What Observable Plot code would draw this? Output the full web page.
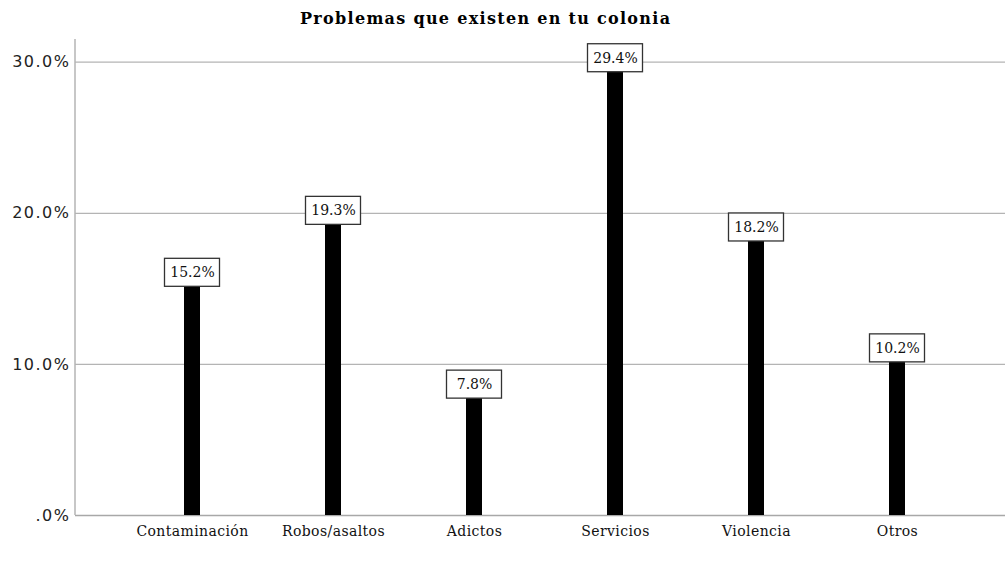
<!DOCTYPE html>
<html>
<head>
<meta charset="utf-8">
<script src="https://cdn.jsdelivr.net/npm/d3@7"></script>
<script src="https://cdn.jsdelivr.net/npm/@observablehq/plot@0.6"></script>
<style>
  html, body { margin: 0; padding: 0; background: #fff; }
  #wrap { width: 1005px; height: 568px; position: relative; }
  #title { height: 38px; position: relative; }
  #title span { position: absolute; left: 300px; top: 9px; font-family: "DejaVu Serif", serif; font-weight: bold; font-size: 16px; letter-spacing: 1.3px; color: #000; white-space: nowrap; }
  .xaxis text { letter-spacing: 0.4px; }
  .yaxis text { letter-spacing: 1.5px; }
</style>
</head>
<body>
<div id="wrap">
  <div id="title"><span>Problemas que existen en tu colonia</span></div>
  <div id="chart"></div>
</div>
<script>
const categories = ["Contaminación", "Robos/asaltos", "Adictos", "Servicios", "Violencia", "Otros"];
const values = [15.2, 19.3, 7.8, 29.4, 18.2, 10.2];
const yTicks = [0, 10, 20, 30];

const data = categories.map((c, i) => ({cat: c, value: values[i]}));
const fmtTick = d => d === 0 ? ".0%" : d.toFixed(1) + "%";

const leftLine = (index, scales, values, dims) => {
  const ns = "http://www.w3.org/2000/svg";
  const l = document.createElementNS(ns, "line");
  l.setAttribute("x1", dims.marginLeft);
  l.setAttribute("x2", dims.marginLeft);
  l.setAttribute("y1", dims.marginTop);
  l.setAttribute("y2", dims.height - dims.marginBottom);
  l.setAttribute("stroke", "#b4b4b4");
  l.setAttribute("stroke-width", 1.5);
  return l;
};

const plot = Plot.plot({
  width: 1005,
  height: 530,
  marginLeft: 75,
  marginRight: 0,
  marginTop: 1,
  marginBottom: 53,
  x: {domain: categories, paddingInner: 0.8865, paddingOuter: 0.741, align: 0.52, label: null},
  y: {domain: [0, 31.5], label: null},
  style: {fontFamily: "DejaVu Serif, serif", background: "#fff"},
  marks: [
    Plot.ruleY(yTicks.filter(d => d > 0), {stroke: "#b4b4b4", strokeWidth: 1.2, strokeOpacity: 1}),
    Plot.ruleY([0], {stroke: "#a8a8a8", strokeWidth: 1.5}),
    leftLine,
    Plot.axisY({ticks: yTicks, tickSize: 0, tickPadding: 5, tickFormat: fmtTick, fontFamily: "DejaVu Sans, sans-serif", fontSize: 16, fill: "#222", label: null, className: "yaxis"}),
    Plot.axisX({tickSize: 0, tickPadding: 11, fontFamily: "DejaVu Serif, serif", fontSize: 14, fill: "#111", label: null, className: "xaxis"}),
    Plot.barY(data, {x: "cat", y: "value", fill: "#000"}),
    Plot.barY(data, {x: "cat", y1: "value", y2: "value", insetLeft: -19.5, insetRight: -19.5, insetTop: -27, insetBottom: -1, fill: "#fff", stroke: "#333", strokeWidth: 1.3}),
    Plot.text(data, {x: "cat", y: "value", text: d => d.value.toFixed(1) + "%", dy: -13, fontSize: 14, fontFamily: "DejaVu Serif, serif", fill: "#111"})
  ]
});
document.getElementById("chart").appendChild(plot);
</script>
</body>
</html>
